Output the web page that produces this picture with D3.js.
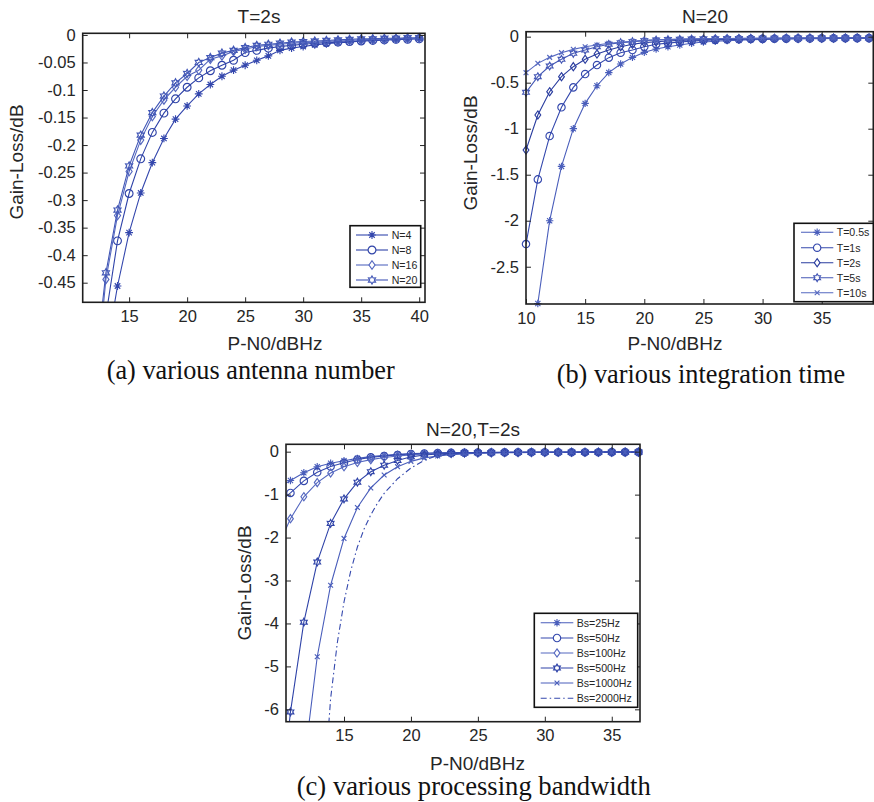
<!DOCTYPE html>
<html>
<head>
<meta charset="utf-8">
<script src="https://cdn.jsdelivr.net/npm/d3@7"></script>
<style>
  body { margin: 0; background: #fff; }
  svg text { font-family: "Liberation Sans", Arial, sans-serif; fill: #262626; }
  svg text.cap { font-family: "Liberation Serif", "Times New Roman", serif; fill: #111; }
</style>
</head>
<body>
<svg id="fig" width="874" height="802"></svg>
<script>
// ---- (a) T=2s, various antenna number ----
var xA = [12,13,14,15,16,17,18,19,20,21,22,23,24,25,26,27,28,29,30,31,32,33,34,35,36,37,38,39,40];
var lossN4  = [-0.78,-0.58,-0.456,-0.359,-0.287,-0.232,-0.188,-0.153,-0.129,-0.107,-0.090,-0.075,-0.064,-0.055,-0.046,-0.038,-0.028,-0.024,-0.021,-0.018,-0.016,-0.014,-0.013,-0.011,-0.010,-0.009,-0.008,-0.007,-0.006];
var lossN8  = [-0.68,-0.51,-0.374,-0.288,-0.225,-0.177,-0.142,-0.116,-0.095,-0.078,-0.065,-0.055,-0.046,-0.032,-0.028,-0.024,-0.021,-0.019,-0.017,-0.015,-0.014,-0.013,-0.012,-0.011,-0.010,-0.009,-0.008,-0.008,-0.007];
var lossN16 = [-0.66,-0.444,-0.328,-0.248,-0.191,-0.148,-0.118,-0.095,-0.075,-0.064,-0.044,-0.038,-0.030,-0.026,-0.021,-0.019,-0.017,-0.015,-0.014,-0.013,-0.012,-0.011,-0.010,-0.009,-0.008,-0.008,-0.007,-0.007,-0.006];
var lossN20 = [-0.62,-0.432,-0.318,-0.238,-0.182,-0.141,-0.111,-0.087,-0.070,-0.050,-0.041,-0.033,-0.028,-0.023,-0.019,-0.017,-0.015,-0.013,-0.012,-0.011,-0.010,-0.009,-0.008,-0.007,-0.007,-0.006,-0.006,-0.005,-0.005];
var ticksXA = [15,20,25,30,35,40];
var ticksYA = [0,-0.05,-0.1,-0.15,-0.2,-0.25,-0.3,-0.35,-0.4,-0.45];
var namesA = ["N=4","N=8","N=16","N=20"];

// ---- (b) N=20, various integration time ----
var xB = [10,11,12,13,14,15,16,17,18,19,20,21,22,23,24,25,26,27,28,29,30,31,32,33,34,35,36,37,38,39];
var lossT05 = [null,-2.9,-2.00,-1.41,-1.00,-0.725,-0.533,-0.39,-0.297,-0.225,-0.17,-0.134,-0.109,-0.09,-0.072,-0.058,-0.05,-0.043,-0.038,-0.034,-0.031,-0.028,-0.026,-0.024,-0.022,-0.021,-0.02,-0.019,-0.018,-0.017];
var lossT1  = [-2.254,-1.551,-1.08,-0.768,-0.551,-0.406,-0.308,-0.228,-0.174,-0.145,-0.109,-0.083,-0.07,-0.058,-0.048,-0.04,-0.035,-0.031,-0.028,-0.026,-0.024,-0.022,-0.021,-0.02,-0.019,-0.018,-0.017,-0.017,-0.016,-0.016];
var lossT2  = [-1.232,-0.851,-0.598,-0.435,-0.326,-0.246,-0.188,-0.145,-0.109,-0.083,-0.065,-0.055,-0.047,-0.04,-0.035,-0.031,-0.028,-0.026,-0.024,-0.022,-0.021,-0.02,-0.019,-0.018,-0.017,-0.017,-0.016,-0.016,-0.015,-0.015];
var lossT5  = [-0.605,-0.435,-0.319,-0.246,-0.181,-0.145,-0.109,-0.083,-0.065,-0.054,-0.043,-0.037,-0.032,-0.029,-0.026,-0.024,-0.022,-0.021,-0.02,-0.019,-0.018,-0.017,-0.017,-0.016,-0.016,-0.015,-0.015,-0.015,-0.014,-0.014];
var lossT10 = [-0.391,-0.29,-0.225,-0.174,-0.138,-0.109,-0.09,-0.072,-0.062,-0.051,-0.04,-0.034,-0.03,-0.027,-0.024,-0.022,-0.021,-0.02,-0.019,-0.018,-0.017,-0.016,-0.016,-0.015,-0.015,-0.015,-0.014,-0.014,-0.014,-0.014];
var ticksXB = [10,15,20,25,30,35];
var ticksYB = [0,-0.5,-1,-1.5,-2,-2.5];
var namesB = ["T=0.5s","T=1s","T=2s","T=5s","T=10s"];

// ---- (c) N=20,T=2s, various processing bandwidth ----
var xC = [10,11,12,13,14,15,16,17,18,19,20,21,22,23,24,25,26,27,28,29,30,31,32,33,34,35,36,37];
var lossB25   = [-0.85,-0.67,-0.49,-0.35,-0.27,-0.21,-0.155,-0.116,-0.085,-0.06,-0.045,-0.035,-0.028,-0.023,-0.02,-0.018,-0.016,-0.015,-0.014,-0.013,-0.012,-0.012,-0.011,-0.011,-0.01,-0.01,-0.01,-0.01];
var lossB50   = [-1.22,-0.96,-0.68,-0.48,-0.345,-0.256,-0.18,-0.132,-0.1,-0.075,-0.055,-0.043,-0.034,-0.028,-0.023,-0.02,-0.018,-0.016,-0.015,-0.014,-0.013,-0.012,-0.012,-0.011,-0.011,-0.01,-0.01,-0.01];
var lossB100  = [-2.25,-1.56,-1.05,-0.72,-0.495,-0.35,-0.252,-0.185,-0.135,-0.1,-0.075,-0.055,-0.042,-0.034,-0.028,-0.024,-0.021,-0.018,-0.016,-0.015,-0.014,-0.013,-0.012,-0.012,-0.011,-0.011,-0.01,-0.01];
var lossB500  = [-9.0,-6.06,-3.97,-2.57,-1.67,-1.1,-0.71,-0.466,-0.315,-0.205,-0.12,-0.078,-0.055,-0.04,-0.032,-0.027,-0.023,-0.02,-0.018,-0.016,-0.015,-0.014,-0.013,-0.012,-0.012,-0.011,-0.011,-0.01];
var lossB1000 = [null,null,-7.3,-4.775,-3.11,-2.02,-1.3,-0.845,-0.543,-0.349,-0.225,-0.145,-0.1,-0.068,-0.05,-0.038,-0.03,-0.025,-0.021,-0.018,-0.016,-0.015,-0.014,-0.013,-0.012,-0.011,-0.011,-0.01];
var xC2000    = [13.5,14,14.5,15,15.5,16,16.5,17,17.5,18,19,20,21,22,23,24,25,26,27,28,29,30,31,32,33,34,35,36,37];
var lossB2000 = [-7.9,-5.75,-4.45,-3.5,-2.78,-2.22,-1.8,-1.47,-1.2,-0.97,-0.63,-0.38,-0.2,-0.09,-0.045,-0.028,-0.022,-0.019,-0.017,-0.015,-0.014,-0.013,-0.012,-0.012,-0.011,-0.011,-0.01,-0.01,-0.01];
var ticksXC = [15,20,25,30,35];
var ticksYC = [0,-1,-2,-3,-4,-5,-6];
var namesC = ["Bs=25Hz","Bs=50Hz","Bs=100Hz","Bs=500Hz","Bs=1000Hz","Bs=2000Hz"];

var svg = d3.select("#fig");

// marker shapes (MATLAB-like)
function markerPath(type, s) {
  if (type == "star") {
    var d = s * 0.7;
    return "M0," + (-s) + "V" + s + "M" + (-s) + ",0H" + s +
      "M" + (-d) + "," + (-d) + "L" + d + "," + d + "M" + (-d) + "," + d + "L" + d + "," + (-d);
  }
  if (type == "circle") {
    return "M" + s + ",0A" + s + "," + s + " 0 1,1 " + (-s) + ",0A" + s + "," + s + " 0 1,1 " + s + ",0Z";
  }
  if (type == "diamond") {
    var w = s * 0.78, h = s * 1.1;
    return "M0," + (-h) + "L" + w + ",0L0," + h + "L" + (-w) + ",0Z";
  }
  if (type == "hex") {
    var pts = [];
    for (var k = 0; k < 12; k++) {
      var a = (-90 + k * 30) * Math.PI / 180, r = (k % 2 == 0) ? s * 1.05 : s * 0.6;
      pts.push([r * Math.cos(a), r * Math.sin(a)]);
    }
    return "M" + pts.map(function(p) { return p[0].toFixed(2) + "," + p[1].toFixed(2); }).join("L") + "Z";
  }
  if (type == "x") {
    var c = s * 0.65;
    return "M" + (-c) + "," + (-c) + "L" + c + "," + c + "M" + (-c) + "," + c + "L" + c + "," + (-c);
  }
  return "";
}

function fmt(v) { return String(+v.toFixed(2)); }

function drawPanel(p, idx) {
  var g = svg.append("g");
  var x = d3.scaleLinear().domain(p.xDom).range([p.left, p.right]);
  var y = d3.scaleLinear().domain(p.yDom).range([p.bottom, p.top]);

  g.append("clipPath").attr("id", "clip" + idx)
    .append("rect")
    .attr("x", p.left).attr("y", p.top)
    .attr("width", p.right - p.left).attr("height", p.bottom - p.top);

  var line = d3.line()
    .defined(function(d) { return d[1] != null; })
    .x(function(d) { return x(d[0]); })
    .y(function(d) { return y(d[1]); });

  p.series.forEach(function(s) {
    var xs = s.x || p.xs;
    var pts = xs.map(function(v, i) { return [v, s.v[i]]; });
    g.append("path")
      .attr("d", line(pts))
      .attr("fill", "none")
      .attr("stroke", s.color)
      .attr("stroke-width", 1.1)
      .attr("stroke-dasharray", s.dash || null)
      .attr("clip-path", "url(#clip" + idx + ")");
    if (s.marker) {
      var inside = pts.filter(function(d) {
        return d[1] != null && d[0] >= p.xDom[0] && d[0] <= p.xDom[1] && d[1] >= p.yDom[0] - 0.001 && d[1] <= p.yDom[1];
      });
      g.selectAll(null).data(inside).enter().append("path")
        .attr("d", markerPath(s.marker, p.ms))
        .attr("transform", function(d) { return "translate(" + x(d[0]) + "," + y(d[1]) + ")"; })
        .attr("fill", "none")
        .attr("stroke", s.color)
        .attr("stroke-width", 1.15);
    }
  });

  // axes: inward ticks on all four sides, box around
  var tick = 5;
  var ax = g.append("g").attr("transform", "translate(0," + p.bottom + ")")
    .call(d3.axisBottom(x).tickValues(p.xTicks).tickFormat(fmt).tickSizeInner(-tick).tickSizeOuter(0).tickPadding(8));
  var ay = g.append("g").attr("transform", "translate(" + p.left + ",0)")
    .call(d3.axisLeft(y).tickValues(p.yTicks).tickFormat(fmt).tickSizeInner(-tick).tickSizeOuter(0).tickPadding(7));
  var at = g.append("g").attr("transform", "translate(0," + p.top + ")")
    .call(d3.axisTop(x).tickValues(p.xTicks).tickFormat("").tickSizeInner(-tick).tickSizeOuter(0));
  var ar = g.append("g").attr("transform", "translate(" + p.right + ",0)")
    .call(d3.axisRight(y).tickValues(p.yTicks).tickFormat("").tickSizeInner(-tick).tickSizeOuter(0));
  [ax, ay, at, ar].forEach(function(a) {
    a.attr("font-family", null).attr("font-size", null).style("color", "#262626");
    a.select(".domain").remove();
    a.selectAll("text").style("font-size", "16.5px");
  });
  g.append("rect")
    .attr("x", p.left).attr("y", p.top)
    .attr("width", p.right - p.left).attr("height", p.bottom - p.top)
    .attr("fill", "none").attr("stroke", "#1e1e1e").attr("stroke-width", 1.6);

  // title and labels
  g.append("text").attr("x", p.titleX).attr("y", p.titleY)
    .attr("text-anchor", "middle").style("font-size", "19px").text(p.title);
  g.append("text").attr("x", p.xLabX).attr("y", p.xLabY)
    .attr("text-anchor", "middle").style("font-size", "19px").text("P-N0/dBHz");
  g.append("text").attr("transform", "translate(" + p.yLabX + "," + p.yLabY + ") rotate(-90)")
    .attr("text-anchor", "middle").style("font-size", "19px").text("Gain-Loss/dB");

  // legend
  var L = p.legend;
  g.append("rect").attr("x", L.x0).attr("y", L.y0)
    .attr("width", L.x1 - L.x0).attr("height", L.y1 - L.y0)
    .attr("fill", "#fff").attr("stroke", "#111").attr("stroke-width", 1.6);
  p.series.forEach(function(s, i) {
    var ly = L.ys[i];
    g.append("line").attr("x1", L.lx0).attr("x2", L.lx1).attr("y1", ly).attr("y2", ly)
      .attr("stroke", s.color).attr("stroke-width", 1.1).attr("stroke-dasharray", s.dash || null);
    if (s.marker) {
      g.append("path").attr("d", markerPath(s.marker, p.ms))
        .attr("transform", "translate(" + (L.lx0 + L.lx1) / 2 + "," + ly + ")")
        .attr("fill", "#fff").attr("stroke", s.color).attr("stroke-width", 1.15);
    }
    g.append("text").attr("x", L.tx).attr("y", ly).attr("dy", "0.36em")
      .style("font-size", "10.6px").text(p.names[i]);
  });
}

drawPanel({
  left: 82.7, right: 425, top: 33.3, bottom: 302.3,
  xDom: [11, 40.5], yDom: [-0.4856, 0.003],
  xTicks: ticksXA, yTicks: ticksYA, xs: xA, ms: 3.9, names: namesA,
  title: "T=2s", titleX: 259, titleY: 23,
  xLabX: 275, xLabY: 350, yLabX: 23.3, yLabY: 162,
  series: [
    { v: lossN4,  marker: "star",    color: "#3447ad" },
    { v: lossN8,  marker: "circle",  color: "#2f43a8" },
    { v: lossN16, marker: "diamond", color: "#5568c0" },
    { v: lossN20, marker: "hex",     color: "#4257b6" }
  ],
  legend: { x0: 350, x1: 420.7, y0: 225.7, y1: 287.3, ys: [235, 250, 265, 280], lx0: 356, lx1: 388, tx: 391.7 }
}, 0);

drawPanel({
  left: 526, right: 873.3, top: 31.7, bottom: 304,
  xDom: [10, 39.36], yDom: [-2.905, 0.054],
  xTicks: ticksXB, yTicks: ticksYB, xs: xB, ms: 3.7, names: namesB,
  title: "N=20", titleX: 705, titleY: 23,
  xLabX: 675, xLabY: 350, yLabX: 476.5, yLabY: 153,
  series: [
    { v: lossT05, marker: "star",    color: "#4a5ebb" },
    { v: lossT1,  marker: "circle",  color: "#3448ad" },
    { v: lossT2,  marker: "diamond", color: "#2a3d9f" },
    { v: lossT5,  marker: "hex",     color: "#4457b5" },
    { v: lossT10, marker: "x",       color: "#5568c0" }
  ],
  legend: { x0: 794, x1: 873.3, y0: 223.3, y1: 301.7, ys: [232.3, 247.7, 262.7, 277.7, 292.7], lx0: 801, lx1: 833.3, tx: 836.7 }
}, 1);

drawPanel({
  left: 286, right: 640, top: 444.3, bottom: 721.7,
  xDom: [10.667, 37.11], yDom: [-6.288, 0.172],
  xTicks: ticksXC, yTicks: ticksYC, xs: xC, ms: 3.7, names: namesC,
  title: "N=20,T=2s", titleX: 473, titleY: 436,
  xLabX: 477.5, xLabY: 770, yLabX: 250.5, yLabY: 583,
  series: [
    { v: lossB25,   marker: "star",    color: "#4a5ebb" },
    { v: lossB50,   marker: "circle",  color: "#3448ad" },
    { v: lossB100,  marker: "diamond", color: "#5568c0" },
    { v: lossB500,  marker: "hex",     color: "#2f43a8" },
    { v: lossB1000, marker: "x",       color: "#4a5ebb" },
    { v: lossB2000, x: xC2000, marker: null, color: "#3448ad", dash: "6,3,1.5,3" }
  ],
  legend: { x0: 534.3, x1: 637.7, y0: 613.3, y1: 707.3, ys: [622.7, 638, 653, 668, 683, 698.3], lx0: 540.7, lx1: 573.3, tx: 576.7 }
}, 2);

// sub-figure captions
svg.append("text").attr("class", "cap").attr("x", 106.7).attr("y", 379)
  .attr("textLength", 288).attr("lengthAdjust", "spacingAndGlyphs")
  .style("font-size", "26.3px").text("(a) various antenna number");
svg.append("text").attr("class", "cap").attr("x", 556.7).attr("y", 383)
  .attr("textLength", 288.5).attr("lengthAdjust", "spacingAndGlyphs")
  .style("font-size", "26.3px").text("(b) various integration time");
svg.append("text").attr("class", "cap").attr("x", 296.7).attr("y", 795)
  .attr("textLength", 354).attr("lengthAdjust", "spacingAndGlyphs")
  .style("font-size", "26.3px").text("(c) various processing bandwidth");
</script>
</body>
</html>
